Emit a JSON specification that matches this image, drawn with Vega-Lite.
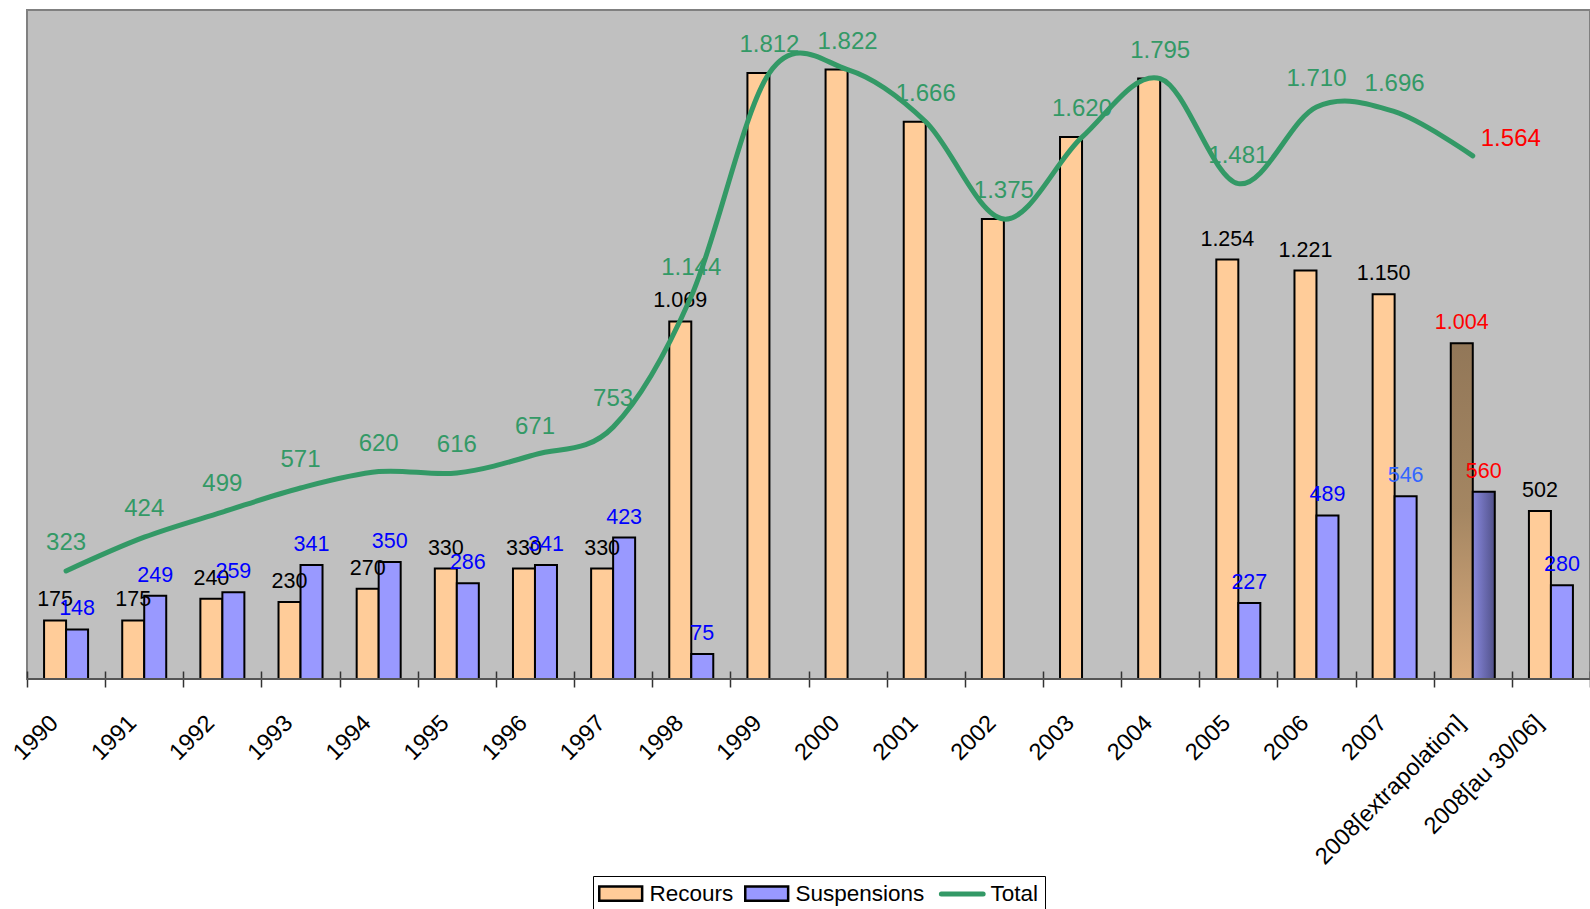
{
  "$schema": "https://vega.github.io/schema/vega-lite/v6.json",
  "autosize": {"type": "none"},
  "padding": {"left": 27, "top": 10, "right": 0, "bottom": 230},
  "width": 1563,
  "height": 669,
  "background": "white",
  "config": {
    "locale": {"number": {"decimal": ",", "thousands": ".", "grouping": [3], "currency": ["", " €"]}},
    "view": {"fill": "#C0C0C0", "stroke": "#808080", "strokeWidth": 2},
    "font": "Liberation Sans"
  },
  "data": {
    "values": [
      {"cat": "1990", "Recours": 175, "Suspensions": 148, "Total": 323},
      {"cat": "1991", "Recours": 175, "Suspensions": 249, "Total": 424},
      {"cat": "1992", "Recours": 240, "Suspensions": 259, "Total": 499},
      {"cat": "1993", "Recours": 230, "Suspensions": 341, "Total": 571},
      {"cat": "1994", "Recours": 270, "Suspensions": 350, "Total": 620},
      {"cat": "1995", "Recours": 330, "Suspensions": 286, "Total": 616},
      {"cat": "1996", "Recours": 330, "Suspensions": 341, "Total": 671},
      {"cat": "1997", "Recours": 330, "Suspensions": 423, "Total": 753},
      {"cat": "1998", "Recours": 1069, "Suspensions": 75, "Total": 1144},
      {"cat": "1999", "Recours": 1812, "Suspensions": null, "Total": 1812},
      {"cat": "2000", "Recours": 1822, "Suspensions": null, "Total": 1822},
      {"cat": "2001", "Recours": 1666, "Suspensions": null, "Total": 1666},
      {"cat": "2002", "Recours": 1375, "Suspensions": null, "Total": 1375},
      {"cat": "2003", "Recours": 1620, "Suspensions": null, "Total": 1620},
      {"cat": "2004", "Recours": 1795, "Suspensions": null, "Total": 1795},
      {"cat": "2005", "Recours": 1254, "Suspensions": 227, "Total": 1481},
      {"cat": "2006", "Recours": 1221, "Suspensions": 489, "Total": 1710},
      {"cat": "2007", "Recours": 1150, "Suspensions": 546, "Total": 1696},
      {"cat": "2008[extrapolation]", "Recours": 1004, "Suspensions": 560, "Total": 1564},
      {"cat": "2008[au 30/06]", "Recours": 502, "Suspensions": 280, "Total": null}
    ]
  },
  "encoding": {
    "x": {
      "field": "cat", "type": "nominal", "sort": null,
      "scale": {"paddingInner": 0, "paddingOuter": 0},
      "axis": {
        "title": null, "labelAngle": -45, "labelAlign": "right", "labelBaseline": "middle",
        "labelFontSize": 23.5, "labelFont": "Liberation Sans", "labelColor": "black", "labelLimit": 0,
        "tickBand": "extent", "tickSize": 16, "tickColor": "#333333", "tickWidth": 1.5,
        "offset": -8, "domain": false, "labelPadding": 32, "labelOffset": -12, "grid": false
      }
    }
  },
  "layer": [
    {
      "transform": [{"fold": ["Recours", "Suspensions"], "as": ["serie", "value"]}],
      "mark": {"type": "bar", "stroke": "black", "strokeWidth": 2},
      "encoding": {
        "xOffset": {"field": "serie", "type": "nominal", "scale": {"paddingInner": 0, "paddingOuter": 0.776}},
        "y": {"field": "value", "type": "quantitative", "scale": {"domain": [0, 2000], "nice": false}, "axis": null},
        "color": {
          "field": "serie", "type": "nominal",
          "scale": {"domain": ["Recours", "Suspensions", "Total"], "range": ["#FFCC99", "#9999FF", "#339966"]},
          "legend": {
            "orient": "none", "legendX": 566, "legendY": 866, "direction": "horizontal", "title": null,
            "labelFontSize": 22.5, "labelFont": "Liberation Sans", "labelColor": "black",
            "symbolSize": 484, "labelOffset": 28, "columnPadding": 6, "padding": 6,
            "strokeColor": "black", "fillColor": "white",
            "symbolStrokeColor": "black", "symbolStrokeWidth": 2.5,
            "encoding": {
              "symbols": {
                "shape": {"value": {"expr": "datum.value === 'Total' ? 'M-0.9,0H2.9' : 'M-1,-0.64H2.9V0.64H-1Z'"}},
                "fill": {"value": {"expr": "datum.value === 'Total' ? 'transparent' : (datum.value === 'Recours' ? '#FFCC99' : '#9999FF')"}},
                "stroke": {"value": {"expr": "datum.value === 'Total' ? '#339966' : '#000000'"}},
                "strokeWidth": {"value": {"expr": "datum.value === 'Total' ? 5 : 2.5"}},
                "strokeCap": {"value": "round"},
                "opacity": {"value": 1},
                "strokeOpacity": {"value": 1}
              }
            }
          },
          "condition": [
            {"test": "datum.cat === '2008[extrapolation]' && datum.serie === 'Recours'",
             "value": {"gradient": "linear", "x1": 0, "y1": 0, "x2": 0, "y2": 1,
                       "stops": [{"offset": 0, "color": "#927758"}, {"offset": 0.5, "color": "#A48662"}, {"offset": 1, "color": "#DDAD7E"}]}},
            {"test": "datum.cat === '2008[extrapolation]' && datum.serie === 'Suspensions'",
             "value": {"gradient": "linear", "x1": 0, "y1": 0, "x2": 1, "y2": 0,
                       "stops": [{"offset": 0, "color": "#8888DD"}, {"offset": 1, "color": "#515189"}]}}
          ]
        }
      }
    },
    {
      "transform": [
        {"fold": ["Recours", "Suspensions"], "as": ["serie", "value"]},
        {"filter": "datum.value != null && datum.Suspensions != null"}
      ],
      "mark": {"type": "text", "baseline": "bottom", "dy": -9, "fontSize": 21.5, "font": "Liberation Sans"},
      "encoding": {
        "xOffset": {"field": "serie", "type": "nominal", "scale": {"paddingInner": 0, "paddingOuter": 0.776}},
        "y": {"field": "value", "type": "quantitative"},
        "text": {"field": "value", "type": "quantitative", "format": ",d"},
        "color": {
          "condition": [
            {"test": "datum.cat === '2008[extrapolation]'", "value": "#FF0000"},
            {"test": "datum.cat === '2007' && datum.serie === 'Suspensions'", "value": "#3366FF"},
            {"test": "datum.serie === 'Suspensions'", "value": "#0000FF"}
          ],
          "value": "black"
        }
      }
    },
    {
      "mark": {"type": "rule", "color": "#555555", "strokeWidth": 2},
      "encoding": {"x": null, "y": {"datum": 0}}
    },
    {
      "mark": {"type": "line", "interpolate": "cardinal", "strokeWidth": 5, "strokeCap": "round", "color": "#339966"},
      "encoding": {
        "y": {"field": "Total", "type": "quantitative"}
      }
    },
    {
      "transform": [{"filter": "datum.Total != null && datum.cat !== '2008[extrapolation]'"}],
      "mark": {"type": "text", "baseline": "bottom", "dy": -16, "fontSize": 24, "font": "Liberation Sans", "color": "#339966"},
      "encoding": {
        "y": {"field": "Total", "type": "quantitative"},
        "text": {"field": "Total", "type": "quantitative", "format": ",d"}
      }
    },
    {
      "transform": [{"filter": "datum.cat === '2008[extrapolation]'"}],
      "mark": {"type": "text", "align": "left", "baseline": "middle", "dx": 8, "dy": -17, "fontSize": 24, "font": "Liberation Sans", "color": "#FF0000"},
      "encoding": {
        "y": {"field": "Total", "type": "quantitative"},
        "text": {"field": "Total", "type": "quantitative", "format": ",d"}
      }
    }
  ]
}
